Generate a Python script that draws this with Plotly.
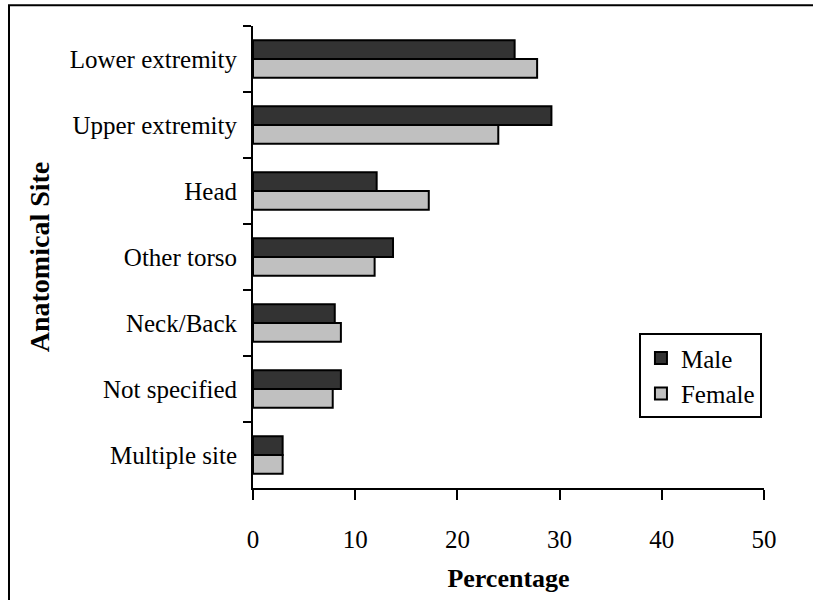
import plotly.graph_objects as go

# Anatomical sites, top to bottom as drawn
sites = [
    "Lower extremity",
    "Upper extremity",
    "Head",
    "Other torso",
    "Neck/Back",
    "Not specified",
    "Multiple site",
]
male = [25.6, 29.2, 12.1, 13.7, 8.0, 8.6, 2.9]
female = [27.8, 24.0, 17.2, 11.9, 8.6, 7.8, 2.9]

x_ticks = [0, 10, 20, 30, 40, 50]

FONT = "Liberation Serif, Times New Roman, serif"
FS = 25

fig = go.Figure()
fig.add_trace(
    go.Bar(
        y=sites,
        x=male,
        name="Male",
        orientation="h",
        marker=dict(color="#333333", line=dict(color="black", width=2)),
    )
)
fig.add_trace(
    go.Bar(
        y=sites,
        x=female,
        name="Female",
        orientation="h",
        marker=dict(color="#c0c0c0", line=dict(color="black", width=2)),
    )
)

fig.update_xaxes(
    range=[0, 50],
    tickvals=x_ticks,
    ticks="outside",
    ticklen=10,
    tickwidth=2,
    tickcolor="black",
    ticklabelstandoff=18,
    showline=True,
    linecolor="black",
    linewidth=2,
    showgrid=False,
    zeroline=False,
    title=dict(text="<b>Percentage</b>", standoff=17, font=dict(size=26)),
    tickfont=dict(size=FS),
)
fig.update_yaxes(
    categoryorder="array",
    categoryarray=sites,
    autorange="reversed",
    tickson="boundaries",
    ticks="outside",
    ticklen=8,
    tickwidth=2,
    tickcolor="black",
    ticklabelstandoff=9,
    showline=True,
    linecolor="black",
    linewidth=2,
    showgrid=False,
    title=dict(text="<b>Anatomical Site</b>", standoff=12, font=dict(size=28)),
    tickfont=dict(size=FS),
)

# outer frame around the whole chart
fig.add_shape(
    type="rect",
    xref="paper",
    yref="paper",
    x0=-0.4775,
    x1=1.12,
    y0=-0.27,
    y1=1.045,
    line=dict(color="black", width=2),
    fillcolor="rgba(0,0,0,0)",
    layer="below",
)

fig.update_layout(
    width=813,
    height=600,
    margin=dict(l=253, r=49, t=26, b=109),
    barmode="group",
    bargap=0.43,
    bargroupgap=0,
    plot_bgcolor="white",
    paper_bgcolor="white",
    font=dict(family=FONT, size=FS, color="black"),
    showlegend=True,
    legend=dict(
        x=0.996,
        y=0.243,
        xanchor="right",
        yanchor="middle",
        bordercolor="black",
        borderwidth=2,
        bgcolor="white",
        font=dict(size=FS),
        itemwidth=30,
    ),
)

fig.write_html(
    "out.html",
    config={"displayModeBar": False},
    post_script="document.body.style.margin='0';",
)
